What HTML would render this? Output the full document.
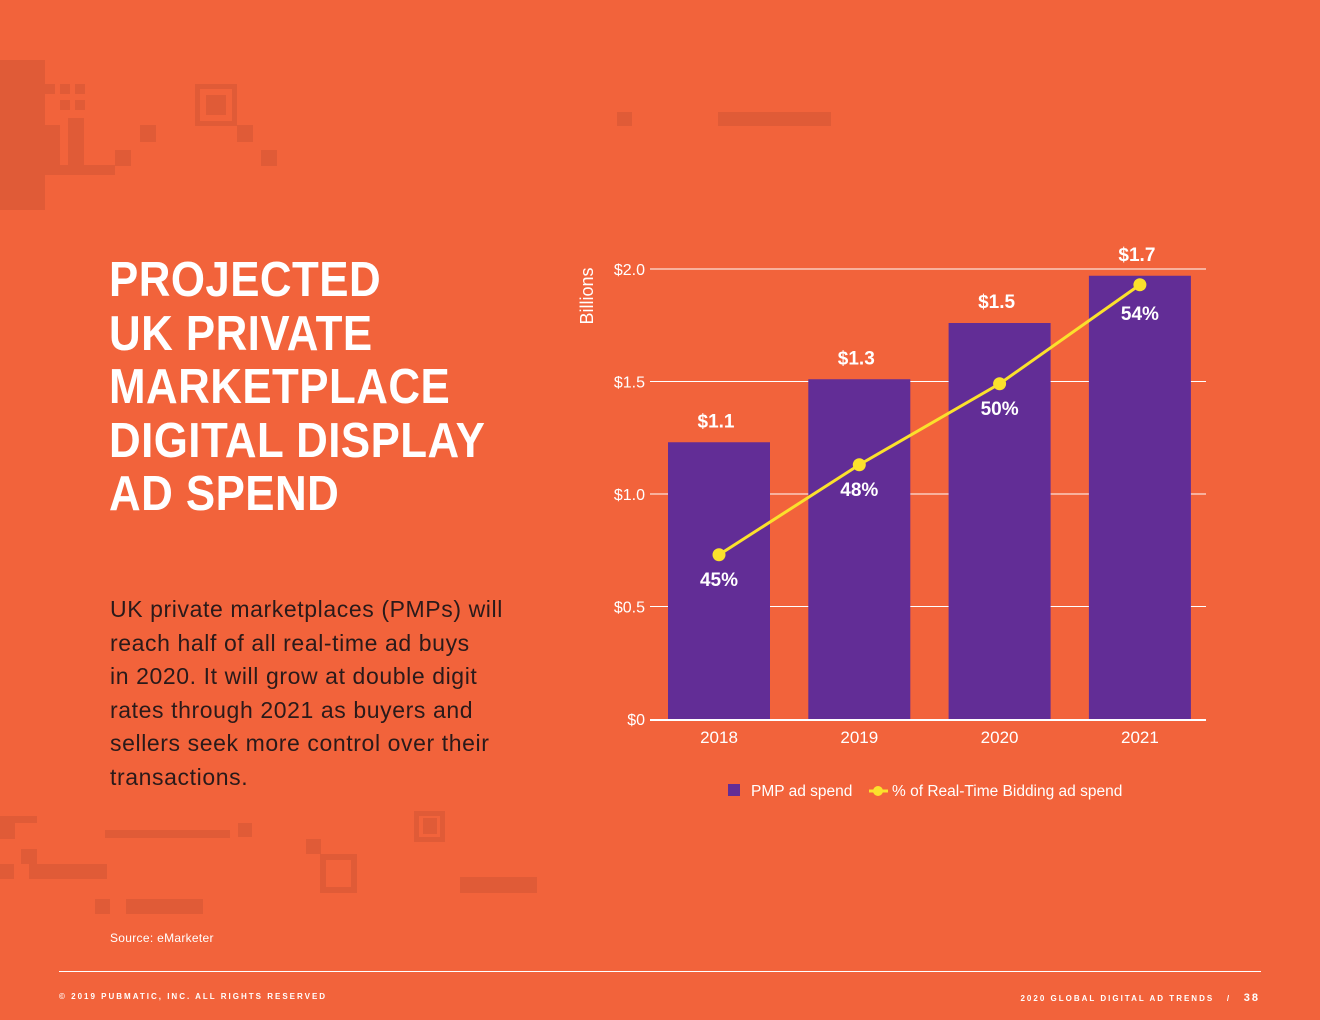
<!DOCTYPE html>
<html><head><meta charset="utf-8"><style>
body{margin:0;width:1320px;height:1020px;background:#f2633b;position:relative;overflow:hidden;font-family:"Liberation Sans",sans-serif;color:#fff}
.d{position:absolute;background:#e05b37}
.o{position:absolute;border:5px solid #e05b37;box-sizing:border-box}
h1{position:absolute;left:109px;top:254px;margin:0;font-size:49px;line-height:53.5px;font-weight:bold;letter-spacing:0.5px;transform:scaleX(0.895);transform-origin:left;white-space:nowrap}
.body{position:absolute;left:110px;top:593px;font-size:23px;line-height:33.5px;color:#2a1a1a;letter-spacing:0.6px;white-space:nowrap}
</style></head><body>
<div class="d" style="left:0;top:60px;width:45px;height:150px"></div>
<div class="d" style="left:45px;top:84px;width:10px;height:10px"></div>
<div class="d" style="left:60px;top:84px;width:10px;height:10px"></div>
<div class="d" style="left:75px;top:84px;width:10px;height:10px"></div>
<div class="d" style="left:60px;top:100px;width:10px;height:10px"></div>
<div class="d" style="left:75px;top:100px;width:10px;height:10px"></div>
<div class="d" style="left:45px;top:125px;width:15px;height:40px"></div>
<div class="d" style="left:68px;top:118px;width:16px;height:47px"></div>
<div class="d" style="left:45px;top:165px;width:70px;height:10px"></div>
<div class="d" style="left:140px;top:125px;width:16px;height:17px"></div>
<div class="d" style="left:115px;top:150px;width:16px;height:16px"></div>
<div class="o" style="left:195px;top:84px;width:42px;height:42px"></div>
<div class="d" style="left:206px;top:95px;width:20px;height:20px"></div>
<div class="d" style="left:237px;top:125px;width:16px;height:17px"></div>
<div class="d" style="left:261px;top:150px;width:16px;height:16px"></div>
<div class="d" style="left:617px;top:112px;width:15px;height:14px"></div>
<div class="d" style="left:718px;top:112px;width:113px;height:14px"></div>
<div class="d" style="left:0;top:816px;width:37px;height:7px"></div>
<div class="d" style="left:0;top:823px;width:15px;height:16px"></div>
<div class="d" style="left:105px;top:830px;width:125px;height:8px"></div>
<div class="d" style="left:238px;top:823px;width:14px;height:14px"></div>
<div class="d" style="left:21px;top:849px;width:16px;height:15px"></div>
<div class="d" style="left:0;top:864px;width:14px;height:15px"></div>
<div class="d" style="left:29px;top:864px;width:78px;height:15px"></div>
<div class="d" style="left:95px;top:899px;width:15px;height:15px"></div>
<div class="d" style="left:126px;top:899px;width:77px;height:15px"></div>
<div class="d" style="left:306px;top:839px;width:15px;height:15px"></div>
<div class="o" style="left:320px;top:854px;width:37px;height:39px;border-width:6px"></div>
<div class="o" style="left:414px;top:811px;width:31px;height:31px"></div>
<div class="d" style="left:423px;top:818px;width:14px;height:16px"></div>
<div class="d" style="left:460px;top:877px;width:77px;height:16px"></div>

<h1>PROJECTED<br>UK PRIVATE<br>MARKETPLACE<br>DIGITAL DISPLAY<br>AD SPEND</h1>
<div class="body">UK private marketplaces (PMPs) will<br>reach half of all real-time ad buys<br>in 2020. It will grow at double digit<br>rates through 2021 as buyers and<br>sellers seek more control over their<br>transactions.</div>
<div style="position:absolute;left:110px;top:931px;font-size:12px;letter-spacing:0.3px">Source: eMarketer</div>
<div style="position:absolute;left:59px;top:971px;width:1202px;height:1px;background:#fff"></div>
<div style="position:absolute;left:59px;top:992px;font-size:8px;letter-spacing:2px;font-weight:bold">© 2019 PUBMATIC, INC. ALL RIGHTS RESERVED</div>
<div style="position:absolute;right:60px;top:992px;font-size:8px;letter-spacing:2px;font-weight:bold">2020 GLOBAL DIGITAL AD TRENDS &nbsp; / &nbsp; <span style="font-size:11px">38</span></div>

<svg id="chart" width="1320" height="1020" style="position:absolute;left:0;top:0"></svg>
<script>
const categories=["2018","2019","2020","2021"];
const barValues=[1.23,1.51,1.76,1.97];
const barLabels=["$1.1","$1.3","$1.5","$1.7"];
const lineValues=[0.73,1.13,1.49,1.93];
const lineLabels=["45%","48%","50%","54%"];
const yTicks=[0,0.5,1.0,1.5,2.0];
const yTickLabels=["$0","$0.5","$1.0","$1.5","$2.0"];
const NS="http://www.w3.org/2000/svg";
const svg=document.getElementById('chart');
const x0=650,x1=1206,y0=719,y1=269;
const y=v=>y0-(v/2)*(y0-y1);
const step=140.3;
const bw=102;
const bx=i=>x0+18+i*step;
const cx=i=>bx(i)+bw/2;
function mk(t,a,txt){const e=document.createElementNS(NS,t);for(const k in a)e.setAttribute(k,a[k]);if(txt!=null)e.textContent=txt;svg.appendChild(e);return e;}
yTicks.forEach((t,i)=>{
 if(t>0){const l=mk('line',{x1:x0,x2:x1,y1:y(t),y2:y(t),stroke:'#fff','stroke-width':1});
 
 }
 const tx=mk('text',{x:645,y:y(t)+6,'text-anchor':'end',fill:'#fff','font-size':16,'font-family':'Liberation Sans'},yTickLabels[i]);
 
 
});
const yt=mk('text',{transform:'translate(593,296) rotate(-90)','text-anchor':'middle',fill:'#fff','font-size':18,'font-family':'Liberation Sans'},'Billions');


categories.forEach((c,i)=>{
 const r=mk('rect',{x:bx(i),y:y(barValues[i]),width:bw,height:y0-y(barValues[i]),fill:'#622d96'});
 
 
 const bl=mk('text',{x:cx(i)-3,y:y(barValues[i])-15,'text-anchor':'middle',fill:'#fff','font-size':19,'font-weight':'bold','font-family':'Liberation Sans'},barLabels[i]);
 
 
 const xl=mk('text',{x:cx(i),y:743,'text-anchor':'middle',fill:'#fff','font-size':17,'font-family':'Liberation Sans'},c);
 
 
});
const base=mk('line',{x1:x0,x2:x1,y1:y0+1,y2:y0+1,stroke:'#fff','stroke-width':2});


const pl=mk('polyline',{points:lineValues.map((v,i)=>cx(i)+','+y(v)).join(' '),fill:'none',stroke:'#fbe12c','stroke-width':3});


lineValues.forEach((v,i)=>{
 const p=mk('circle',{cx:cx(i),cy:y(v),r:6.5,fill:'#fbe12c'});
 
 
 const t=mk('text',{x:cx(i),y:y(v)+(i==3?35:31),'text-anchor':'middle',fill:'#fff','font-size':19,'font-weight':'bold','font-family':'Liberation Sans'},lineLabels[i]);
 
 
});
const lg1=mk('rect',{x:728,y:784,width:12,height:12,fill:'#622d96'});


const lt1=mk('text',{x:751,y:796,fill:'#fff','font-size':15.5,'font-family':'Liberation Sans'},'PMP ad spend');


const lg2=mk('line',{x1:869,x2:888,y1:791,y2:791,stroke:'#fbe12c','stroke-width':3});


const lg3=mk('circle',{cx:878,cy:791,r:5,fill:'#fbe12c'});


const lt2=mk('text',{x:892,y:796,fill:'#fff','font-size':15.5,'font-family':'Liberation Sans'},'% of Real-Time Bidding ad spend');


</script>
</body></html>
